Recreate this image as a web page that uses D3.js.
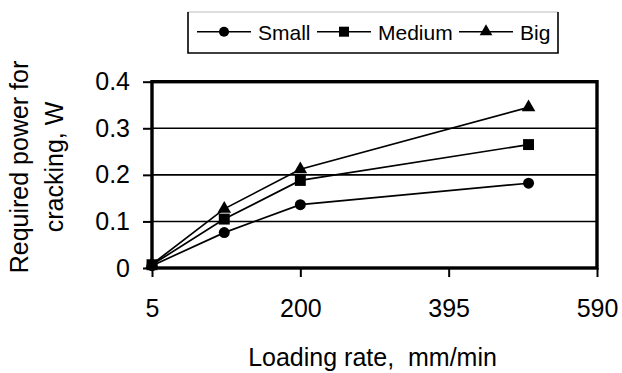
<!DOCTYPE html>
<html>
<head>
<meta charset="utf-8">
<script src="https://cdn.jsdelivr.net/npm/d3@7/dist/d3.min.js"></script>
<style>
  html, body { margin: 0; padding: 0; background: #fff; }
  text { font-family: "Liberation Sans", Arial, sans-serif; fill: #000; }
</style>
</head>
<body>
<svg id="chart" width="622" height="373"></svg>
<script>
const loadingRates = [5, 100, 200, 500];
const small = [0.005, 0.076, 0.136, 0.182];
const medium = [0.007, 0.105, 0.188, 0.265];
const big = [0.008, 0.127, 0.212, 0.345];
const seriesNames = ["Small", "Medium", "Big"];
const xTicks = [5, 200, 395, 590];
const yTicks = [0, 0.1, 0.2, 0.3, 0.4];

(function () {
const svg = d3.select("#chart");
const pLeft = 152, pRight = 597, pTop = 81.7, pBottom = 268;
const x = d3.scaleLinear().domain([5, 590]).range([pLeft, pRight]);
const y = d3.scaleLinear().domain([0, 0.4]).range([pBottom, pTop]);

// gridlines
svg.append("g").selectAll("line").data(yTicks.filter(t => t > 0 && t < 0.4)).join("line")
  .attr("x1", pLeft).attr("x2", pRight)
  .attr("y1", d => y(d)).attr("y2", d => y(d))
  .attr("stroke", "#000").attr("stroke-width", 1.6);

// y axis
const yAxis = d3.axisLeft(y).tickValues(yTicks).tickFormat(d => d === 0 ? "0" : d3.format(".1f")(d)).tickSize(9).tickPadding(13);
const gy = svg.append("g").attr("transform", `translate(${pLeft},0)`).call(yAxis);
gy.select(".domain").remove();
gy.selectAll(".tick line").attr("stroke", "#000").attr("stroke-width", 2);
gy.selectAll(".tick text").attr("font-size", 25).attr("font-family", "Liberation Sans, Arial, sans-serif").attr("fill", "#000");

// x axis
const xAxis = d3.axisBottom(x).tickValues(xTicks).tickFormat(d3.format("d")).tickSize(9).tickPadding(22);
const gx = svg.append("g").attr("transform", `translate(0,${pBottom})`).call(xAxis);
gx.select(".domain").remove();
gx.selectAll(".tick line").attr("stroke", "#000").attr("stroke-width", 2);
gx.selectAll(".tick text").attr("font-size", 25).attr("font-family", "Liberation Sans, Arial, sans-serif").attr("fill", "#000");

// plot border
svg.append("rect").attr("x", pLeft).attr("y", pTop).attr("width", pRight - pLeft).attr("height", pBottom - pTop)
  .attr("fill", "none").attr("stroke", "#000").attr("stroke-width", 3.4);

// series
const data = [small, medium, big];
const line = d3.line().x((d, i) => x(loadingRates[i])).y(d => y(d));
const symbols = [d3.symbolCircle, d3.symbolSquare, d3.symbolTriangle];
const symSizes = [95, 120, 80];
data.forEach((vals, si) => {
  svg.append("path").datum(vals).attr("d", line).attr("fill", "none").attr("stroke", "#000").attr("stroke-width", 1.7);
  svg.append("g").selectAll("path").data(vals).join("path")
    .attr("d", d3.symbol().type(symbols[si]).size(symSizes[si]))
    .attr("transform", (d, i) => `translate(${x(loadingRates[i])},${y(d)})`)
    .attr("fill", "#000");
});

// legend
const lg = svg.append("g");
lg.append("line").attr("x1", 188).attr("x2", 558).attr("y1", 12).attr("y2", 12).attr("stroke", "#bbb").attr("stroke-width", 1);
lg.append("polyline").attr("points", "188,12 188,53 558,53 558,12").attr("fill", "none").attr("stroke", "#000").attr("stroke-width", 1.6);
const legendX = [197, 317, 459];
const legendSizes = [80, 100, 70];
seriesNames.forEach((name, i) => {
  const lx = legendX[i];
  lg.append("line").attr("x1", lx).attr("x2", lx + 54).attr("y1", 31.7).attr("y2", 31.7).attr("stroke", "#000").attr("stroke-width", 1.6);
  lg.append("path").attr("d", d3.symbol().type(symbols[i]).size(legendSizes[i])).attr("transform", `translate(${lx + 27},31.7)`).attr("fill", "#000");
  lg.append("text").attr("x", lx + 61).attr("y", 39.5).attr("font-size", 21).text(name);
});

// axis titles
svg.append("text").attr("x", 372.5).attr("y", 366).attr("text-anchor", "middle").attr("font-size", 25)
  .style("white-space", "pre").text("Loading rate,  mm/min");
const yt = svg.append("text").attr("transform", "translate(0,167) rotate(-90)").attr("text-anchor", "middle").attr("font-size", 25);
yt.append("tspan").attr("x", 0).attr("y", 28).text("Required power for");
yt.append("tspan").attr("x", 0).attr("y", 63).text("cracking, W");
})();
</script>
</body>
</html>
